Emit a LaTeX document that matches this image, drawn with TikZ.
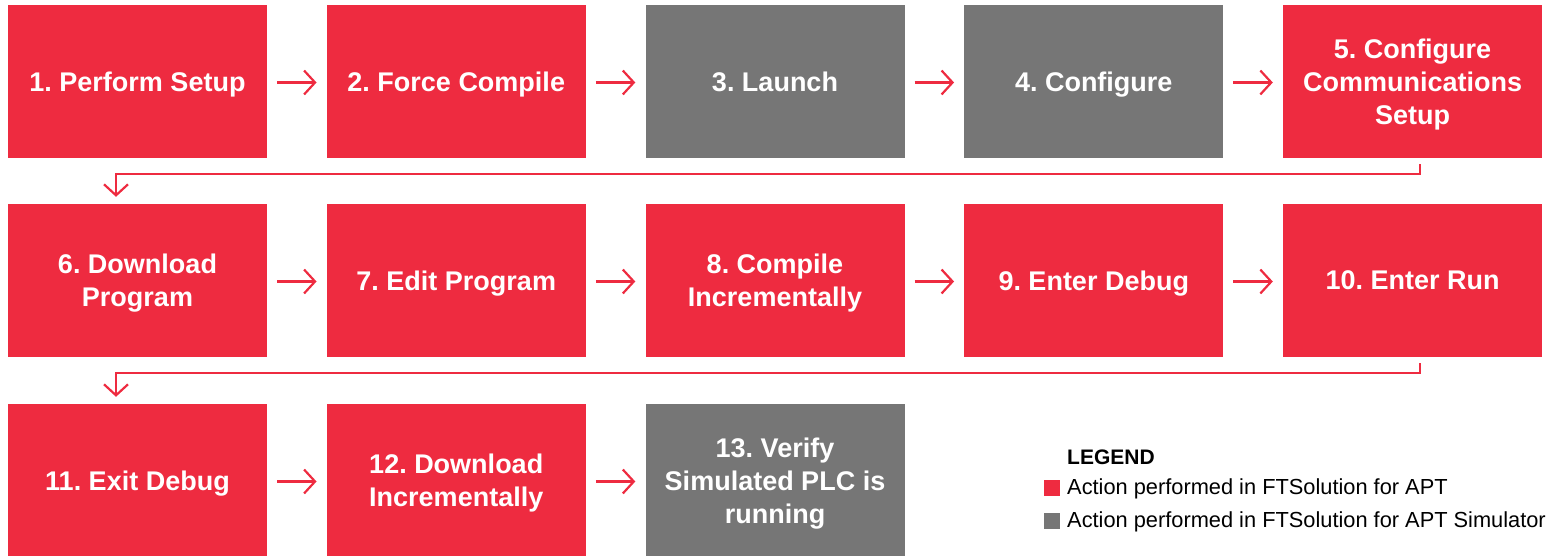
\documentclass[tikz,border=0pt]{standalone}
\usepackage{fontspec}
\setmainfont{Liberation Sans}
\frenchspacing
\usetikzlibrary{arrows.meta,calc}
\definecolor{ftred}{HTML}{EE2B40}
\definecolor{ftgray}{HTML}{767676}
\begin{document}
\begin{tikzpicture}[x=1pt,y=1pt,
  stepbox/.style={rectangle,minimum width=259pt,minimum height=153pt,inner sep=0pt,
    text=white,align=center,text depth=0pt,font=\fontsize{27}{33}\selectfont\bfseries},
  redbox/.style={stepbox,fill=ftred},
  graybox/.style={stepbox,fill=ftgray},
  arr/.style={draw=ftred,line width=2.2pt,-{Straight Barb[length=11pt,width=24pt,line width=2.2pt]}},
  legsq/.style={rectangle,minimum size=16pt,inner sep=0pt},
  legtxt/.style={anchor=west,inner sep=0pt,font=\fontsize{21.8}{25}\selectfont}
]
\useasboundingbox (0,0) rectangle (1557,-556);
% row 1
\node[redbox]  (b1) at (137.5,-81.5) {1. Perform Setup};
\node[redbox]  (b2) at (456.25,-81.5) {2. Force Compile};
\node[graybox] (b3) at (775,-81.5) {3. Launch};
\node[graybox] (b4) at (1093.75,-81.5) {4. Configure};
\node[redbox]  (b5) at (1412.5,-81.5) {5. Configure\\Communications\\Setup};
% row 2
\node[redbox]  (b6) at (137.5,-280.5) {6. Download\\Program};
\node[redbox]  (b7) at (456.25,-280.5) {7. Edit Program};
\node[redbox]  (b8) at (775,-280.5) {8. Compile\\Incrementally};
\node[redbox]  (b9) at (1093.75,-280.5) {9. Enter Debug};
\node[redbox]  (b10) at (1412.5,-280.5) {10. Enter Run};
% row 3
\node[redbox]  (b11) at (137.5,-480.5) {11. Exit Debug};
\node[redbox]  (b12) at (456.25,-480.5) {12. Download\\Incrementally};
\node[graybox] (b13) at (775,-480.5) {13. Verify\\Simulated PLC is\\running};
% horizontal arrows
\foreach \a/\b in {b1/b2,b2/b3,b3/b4,b4/b5,b6/b7,b7/b8,b8/b9,b9/b10,b11/b12,b12/b13}
  \draw[arr,shorten <=10pt,shorten >=10pt] ([yshift=-1pt]\a.east) -- ([yshift=-1pt]\b.west);
% wrap connectors
\coordinate (w1s) at ($(b5.south)+(7.5,-6)$);
\coordinate (w1e) at ($(b6.north)+(-21.5,7)$);
\draw[arr] (w1s) -- ++(0,-10) -| (w1e);
\coordinate (w2s) at ($(b10.south)+(7.5,-6)$);
\coordinate (w2e) at ($(b11.north)+(-21.5,7)$);
\draw[arr] (w2s) -- ++(0,-10) -| (w2e);
% legend
\node[anchor=west,inner sep=0pt,font=\fontsize{21}{24}\selectfont\bfseries] (lg) at (1067,-457) {LEGEND};
\node[legsq,fill=ftred]  (s1) at (1052,-488) {};
\node[legtxt] (t1) at (1067,-489) {Action performed in FTSolution for APT};
\node[legsq,fill=ftgray] (s2) at (1052,-521) {};
\node[legtxt] (t2) at (1067,-522) {Action performed in FTSolution for APT Simulator};
\end{tikzpicture}
\end{document}
